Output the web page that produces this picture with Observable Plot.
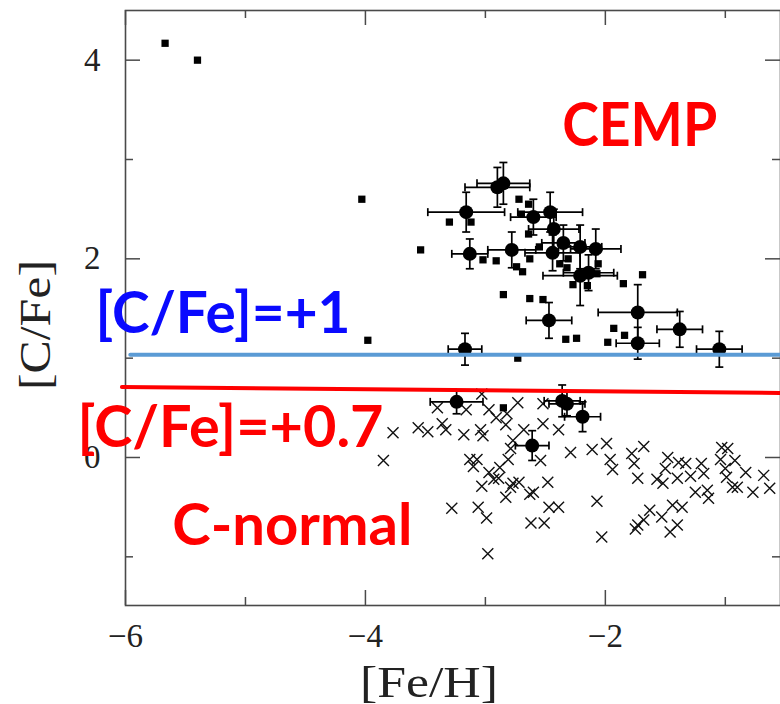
<!DOCTYPE html>
<html><head><meta charset="utf-8">
<script src="https://cdn.jsdelivr.net/npm/d3@7"></script>
<script src="https://cdn.jsdelivr.net/npm/@observablehq/plot@0.6"></script>
<style>body{margin:0;background:#fff}#chart svg{display:block}</style>
</head><body><div id="chart"></div>
<script>
// ---- data: CEMP literature stars (small squares)
const squareFeH = [-5.67,-5.40,-4.03,-3.98,-3.54,-3.30,-3.12,-2.72,-2.64,-2.70,-2.64,-2.55,-3.02,-2.91,-2.63,-2.74,-2.69,-2.38,-2.31,-2.32,-2.06,-2.27,-2.15,-2.07,-1.85,-1.69,-2.85,-2.63,-2.52,-2.33,-2.24,-1.93,-1.84,-1.98,-2.73,-2.85];
const squareCFe = [4.17,4.00,2.60,1.18,2.09,2.37,2.37,2.60,2.55,2.45,2.25,2.12,1.99,1.98,2.00,1.92,1.87,1.95,2.00,1.91,1.95,1.74,1.73,1.85,1.75,1.84,1.64,1.60,1.59,1.19,1.20,1.30,1.23,1.16,1.00,0.50];
// ---- data: programme stars with error bars (large circles)
const circleFeH = [-3.16,-2.90,-2.85,-3.13,-2.78,-2.60,-2.46,-2.43,-2.44,-2.35,-2.21,-2.08,-2.21,-2.14,-1.73,-2.47,-1.73,-3.17,-1.38,-1.05,-3.24,-2.36,-2.32,-2.19,-2.61];
const circleCFe = [2.47,2.72,2.76,2.05,2.09,2.42,2.47,2.30,2.06,2.16,2.12,2.10,1.83,1.86,1.46,1.38,1.15,1.09,1.29,1.09,0.56,0.57,0.54,0.41,0.12];
const circleErrFeH = [0.32,0.27,0.22,0.15,0.20,0.19,0.27,0.21,0.23,0.18,0.18,0.21,0.31,0.21,0.33,0.19,0.18,0.14,0.19,0.19,0.22,0.15,0.15,0.15,0.14];
const circleErrCFe = [0.20,0.20,0.21,0.15,0.18,0.18,0.20,0.20,0.18,0.18,0.22,0.20,0.30,0.18,0.28,0.18,0.16,0.16,0.18,0.18,0.12,0.16,0.12,0.15,0.15];
// ---- data: carbon-normal stars (crosses)
const crossFeH = [-3.85,-3.77,-3.56,-3.48,-3.40,-3.36,-3.33,-3.18,-3.16,-3.03,-3.04,-3.02,-3.13,-3.07,-3.10,-2.97,-2.88,-2.93,-2.89,-3.03,-2.83,-3.28,-3.06,-2.99,-2.98,-2.97,-2.91,-2.82,-2.83,-2.73,-2.52,-2.52,-2.39,-2.68,-2.77,-2.79,-2.81,-2.54,-2.77,-2.72,-2.79,-2.48,-2.60,-2.63,-2.47,-2.39,-2.62,-2.51,-2.29,-2.11,-1.99,-1.96,-1.94,-2.07,-2.03,-1.78,-1.68,-1.76,-1.73,-1.57,-1.52,-1.48,-1.39,-1.33,-1.50,-1.40,-1.29,-1.20,-1.18,-1.25,-1.15,-1.14,-1.44,-1.36,-1.63,-1.53,-1.68,-1.73,-1.75,-1.46,-1.40,-1.03,-0.98,-1.04,-0.92,-1.00,-0.99,-0.83,-0.94,-0.90,-0.77,-0.68,-0.63];
const crossCFe = [-0.03,0.25,0.30,0.26,0.50,0.34,0.28,0.23,0.48,0.64,0.28,0.22,-0.02,-0.02,-0.09,-0.15,-0.10,-0.22,-0.21,-0.29,-0.40,-0.51,-0.50,-0.61,-0.97,0.48,0.40,0.44,0.33,0.55,0.54,0.34,0.28,0.28,0.17,0.09,-0.02,-0.03,-0.26,-0.25,-0.30,-0.25,-0.35,-0.37,-0.50,-0.50,-0.66,-0.66,0.05,0.08,0.14,-0.02,-0.12,-0.44,-0.80,0.04,0.11,-0.06,-0.21,-0.22,-0.26,0.00,-0.05,-0.06,-0.11,-0.21,-0.19,-0.06,-0.16,-0.35,-0.33,-0.41,-0.48,-0.50,-0.53,-0.60,-0.63,-0.68,-0.72,-0.75,-0.68,0.10,0.09,-0.02,-0.03,-0.11,-0.20,-0.15,-0.30,-0.30,-0.35,-0.18,-0.31];
// ---- dividing lines
const cempLineFeH = [-5.96, -0.54];
const cempLineCFe = [1.035, 1.035];
const oldLineFeH = [-6.03, -0.54];
const oldLineCFe = [0.71, 0.65];
// ---- annotations
const annotationText = ["CEMP", "[C/Fe]=+1", "[C/Fe]=+0.7", "C-normal"];
const annotationFeH = [-2.36, -6.25, -6.40, -5.61];
const annotationCFe = [3.14, 1.25, 0.11, -0.88];
// ---- ticks
const xMajorTicks = [-6, -4, -2];
const xMinorTicks = [-5, -3, -1];
const yMajorTicks = [0, 2, 4];
const yMinorTicks = [-1, 1, 3];
const xTickLabels = ["\u22126", "\u22124", "\u22122"];
const yTickLabels = ["0", "2", "4"];
const xTitle = "[Fe/H]";
const yTitle = "[C/Fe]";

// ---- styles
const annColors = ["#ff0000", "#0a0aff", "#ff0000", "#ff0000"];
const annSizes = [62, 58, 58, 58];
const annWidths = [155, 255, 306, 240];
const axisColor = "#4a4a4a";
const annFont = "Lato, 'Open Sans', sans-serif";

const squares = squareFeH.map((x, i) => ({x, y: squareCFe[i]}));
const circles = circleFeH.map((x, i) => ({x, y: circleCFe[i], ex: circleErrFeH[i], ey: circleErrCFe[i]}));
const crosses = crossFeH.map((x, i) => ({x, y: crossCFe[i]}));
const cempLine = cempLineFeH.map((x, i) => ({x, y: cempLineCFe[i]}));
const oldLine = oldLineFeH.map((x, i) => ({x, y: oldLineCFe[i]}));
const annotations = annotationText.map((t, i) => ({t, x: annotationFeH[i], y: annotationCFe[i], i}));

const hcap = {draw(ctx) { ctx.moveTo(-4, 0); ctx.lineTo(4, 0); }};
const vcap = {draw(ctx) { ctx.moveTo(0, -4); ctx.lineTo(0, 4); }};
const xcross = {draw(ctx) { ctx.moveTo(-5.5, -5.5); ctx.lineTo(5.5, 5.5); ctx.moveTo(-5.5, 5.5); ctx.lineTo(5.5, -5.5); }};

const annMarks = annotations.map(a => Plot.text([a], {
  x: "x", y: "y", text: "t", fill: annColors[a.i], fontSize: annSizes[a.i], fontWeight: "bold",
  fontFamily: annFont, textAnchor: "start", lineAnchor: "bottom", className: "ann" + a.i
}));

const plot = Plot.plot({
  width: 780, height: 704,
  marginLeft: 125, marginRight: 0, marginTop: 10, marginBottom: 99,
  x: {domain: [-6, -0.54]},
  y: {domain: [-1.49, 4.5]},
  style: {fontFamily: "'Liberation Serif', 'DejaVu Serif', serif", fontSize: "33px", color: "#222", background: "white"},
  marks: [
    Plot.frame({stroke: axisColor, strokeWidth: 1.6}),
    Plot.ruleX(xMajorTicks, {insetTop: 580, stroke: axisColor, strokeWidth: 1.5}),
    Plot.ruleX(xMinorTicks, {insetTop: 587, stroke: axisColor, strokeWidth: 1.5}),
    Plot.ruleX(xMajorTicks, {insetBottom: 580, stroke: axisColor, strokeWidth: 1.5}),
    Plot.ruleX(xMinorTicks, {insetBottom: 587, stroke: axisColor, strokeWidth: 1.5}),
    Plot.ruleY(yMajorTicks, {insetRight: 640, stroke: axisColor, strokeWidth: 1.5}),
    Plot.ruleY(yMinorTicks, {insetRight: 647, stroke: axisColor, strokeWidth: 1.5}),
    Plot.ruleY(yMajorTicks, {insetLeft: 640, stroke: axisColor, strokeWidth: 1.5}),
    Plot.ruleY(yMinorTicks, {insetLeft: 647, stroke: axisColor, strokeWidth: 1.5}),
    Plot.axisX({ticks: xMajorTicks, tickFormat: d => xTickLabels[xMajorTicks.indexOf(d)], tickSize: 0, tickPadding: 18, label: null, fontSize: 33, fill: "#222"}),
    Plot.axisY({ticks: yMajorTicks, tickFormat: d => yTickLabels[yMajorTicks.indexOf(d)], tickSize: 0, tickPadding: 25, label: null, fontSize: 33, fill: "#222"}),
    Plot.text([xTitle], {text: d => d, frameAnchor: "bottom", dx: -24, dy: 91, fontSize: 45, textAnchor: "middle", lineAnchor: "bottom", fill: "#222", className: "xtitle"}),
    Plot.text([yTitle], {text: d => d, frameAnchor: "left", dx: -90, dy: 17, rotate: -90, fontSize: 45, textAnchor: "middle", lineAnchor: "middle", fill: "#222", className: "ytitle"}),
    // crosses
    Plot.dot(crosses, {x: "x", y: "y", symbol: xcross, fill: "none", stroke: "#111", strokeWidth: 1.4}),
    // squares
    Plot.dot(squares, {x: "x", y: "y", symbol: "square", r: 4.1, fill: "#000", stroke: "none"}),
    // error bars
    Plot.link(circles, {x1: d => d.x - d.ex, x2: d => d.x + d.ex, y1: "y", y2: "y", stroke: "#000", strokeWidth: 1.7}),
    Plot.link(circles, {x1: "x", x2: "x", y1: d => d.y - d.ey, y2: d => d.y + d.ey, stroke: "#000", strokeWidth: 1.7}),
    Plot.dot(circles, {x: d => d.x - d.ex, y: "y", symbol: vcap, fill: "none", stroke: "#000", strokeWidth: 1.7}),
    Plot.dot(circles, {x: d => d.x + d.ex, y: "y", symbol: vcap, fill: "none", stroke: "#000", strokeWidth: 1.7}),
    Plot.dot(circles, {x: "x", y: d => d.y - d.ey, symbol: hcap, fill: "none", stroke: "#000", strokeWidth: 1.7}),
    Plot.dot(circles, {x: "x", y: d => d.y + d.ey, symbol: hcap, fill: "none", stroke: "#000", strokeWidth: 1.7}),
    Plot.dot(circles, {x: "x", y: "y", r: 7, fill: "#000", stroke: "none"}),
    // dividing lines
    Plot.line(cempLine, {x: "x", y: "y", stroke: "#5b9bd5", strokeWidth: 4}),
    Plot.line(oldLine, {x: "x", y: "y", stroke: "#ff0000", strokeWidth: 4}),
    ...annMarks
  ]
});

const svg = d3.select(plot);
annotations.forEach(a => {
  svg.selectAll(".ann" + a.i + " text").attr("textLength", annWidths[a.i]).attr("lengthAdjust", "spacingAndGlyphs");
});
svg.selectAll(".xtitle text").attr("textLength", 138).attr("lengthAdjust", "spacingAndGlyphs");
svg.selectAll(".ytitle text").attr("textLength", 130).attr("lengthAdjust", "spacingAndGlyphs");
document.getElementById("chart").appendChild(plot);
</script>
</body></html>
